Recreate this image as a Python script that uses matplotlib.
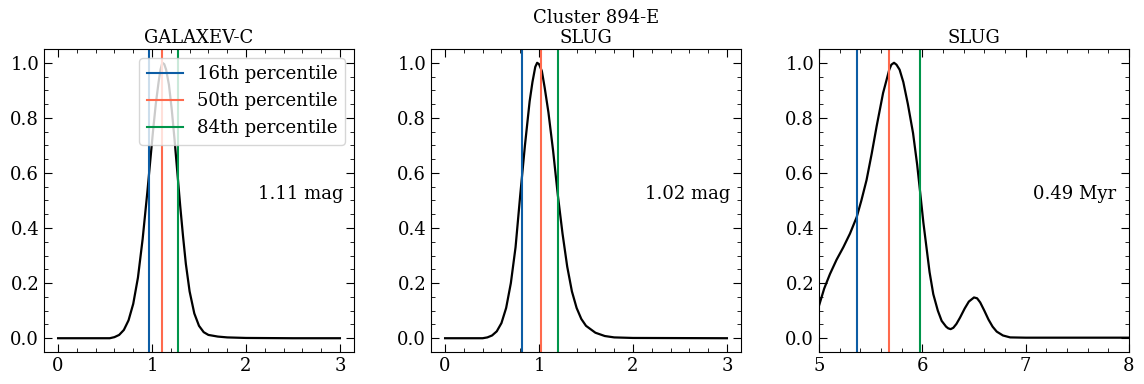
import matplotlib
matplotlib.use("Agg")
import matplotlib.pyplot as plt
from matplotlib.ticker import AutoMinorLocator

plt.rcParams['font.family'] = 'DejaVu Serif'
plt.rcParams['font.size'] = 13
plt.rcParams['mathtext.fontset'] = 'dejavuserif'

# PDF of panel 1 (GALAXEV-C, magnitudes)
x1 = [0.0, 0.55, 0.6, 0.65, 0.7, 0.75, 0.8, 0.85, 0.9, 0.95, 0.98, 1.01, 1.04, 1.07, 1.09,
      1.11, 1.13, 1.15, 1.18, 1.21, 1.24, 1.27, 1.3, 1.33, 1.36, 1.4, 1.45, 1.5, 1.55, 1.6,
      1.7, 1.8, 2.0, 2.5, 3.0]
y1 = [0.0, 0.0, 0.004, 0.012, 0.03, 0.065, 0.125, 0.22, 0.36, 0.53, 0.64, 0.75, 0.85, 0.93, 0.975,
      1.0, 0.995, 0.975, 0.92, 0.83, 0.72, 0.60, 0.48, 0.37, 0.27, 0.17, 0.09, 0.045, 0.022, 0.012,
      0.006, 0.003, 0.001, 0.0, 0.0]

# PDF of panel 2 (SLUG, magnitudes)
x2 = [0.0, 0.4, 0.45, 0.5, 0.55, 0.6, 0.65, 0.7, 0.75, 0.8, 0.85, 0.9, 0.93, 0.96, 0.98,
      1.0, 1.03, 1.06, 1.1, 1.15, 1.2, 1.25, 1.3, 1.35, 1.4, 1.45, 1.5, 1.6, 1.7, 1.8, 2.0, 3.0]
y2 = [0.0, 0.0, 0.003, 0.01, 0.025, 0.055, 0.11, 0.2, 0.33, 0.52, 0.70, 0.86, 0.93, 0.985, 1.0,
      0.995, 0.97, 0.91, 0.82, 0.68, 0.52, 0.38, 0.26, 0.17, 0.11, 0.07, 0.045, 0.02, 0.008, 0.003, 0.001, 0.0]

# PDF of panel 3 (SLUG, log age)
x3 = [5.0, 5.05, 5.106, 5.17, 5.235, 5.3, 5.365, 5.41, 5.46, 5.51, 5.558, 5.62, 5.68, 5.70,
      5.726, 5.75, 5.78, 5.816, 5.86, 5.91, 5.95, 5.98, 6.01, 6.04, 6.07, 6.106, 6.15, 6.187,
      6.23, 6.25, 6.274, 6.3, 6.33, 6.365, 6.41, 6.45, 6.5, 6.53, 6.56, 6.6, 6.64, 6.68, 6.72,
      6.78, 6.85, 7.0, 8.0]
y3 = [0.118, 0.18, 0.233, 0.285, 0.33, 0.38, 0.44, 0.50, 0.574, 0.67, 0.77, 0.89, 0.975, 0.993,
      1.0, 0.993, 0.975, 0.93, 0.85, 0.745, 0.63, 0.526, 0.42, 0.33, 0.24, 0.16, 0.1, 0.063,
      0.042, 0.036, 0.033, 0.038, 0.052, 0.075, 0.108, 0.133, 0.148, 0.145, 0.13, 0.1, 0.068, 0.042, 0.024,
      0.01, 0.003, 0.002, 0.002]

panels = [
    dict(x=x1, y=y1, p=[0.968, 1.11, 1.277], title="GALAXEV-C", note="1.11 mag"),
    dict(x=x2, y=y2, p=[0.82, 1.02, 1.20], title="SLUG", note="1.02 mag"),
    dict(x=x3, y=y3, p=[5.365, 5.68, 5.98], title="SLUG", note="0.49 Myr"),
]
labels = ["16th percentile", "50th percentile", "84th percentile"]
colors = ["#0C5DA5", "#FF6A4D", "#00954A"]

fig = plt.figure(figsize=(11.44, 3.84), dpi=100)
lefts = [44, 431, 819]
axes = []
for i, pan in enumerate(panels):
    ax = fig.add_axes([lefts[i] / 1144, 1 - 352 / 384, 310 / 1144, 303 / 384])
    ax.plot(pan["x"], pan["y"], color="black", lw=1.6)
    for v, lab, c in zip(pan["p"], labels, colors):
        ax.axvline(v, color=c, lw=1.5, label=lab)
    ax.set_title(pan["title"], fontsize=13, pad=4)
    ax.text(0.69, 0.52, pan["note"], transform=ax.transAxes, ha="left", va="center", fontsize=13)
    ax.xaxis.set_minor_locator(AutoMinorLocator())
    ax.yaxis.set_minor_locator(AutoMinorLocator())
    ax.tick_params(which="both", direction="in", top=True, right=True)
    ax.tick_params(which="major", length=6)
    ax.tick_params(which="minor", length=3)
    ax.set_ylim(-0.05, 1.05)
    axes.append(ax)

axes[0].set_xlim(-0.15, 3.15)
axes[1].set_xlim(-0.15, 3.15)
axes[2].set_xlim(5, 8)
axes[0].legend(loc="upper right", fontsize=13)

fig.text(596 / 1144, 1 - 18 / 384, "Cluster 894-E", ha="center", va="center", fontsize=13)

fig.savefig("out.png", dpi=100)
